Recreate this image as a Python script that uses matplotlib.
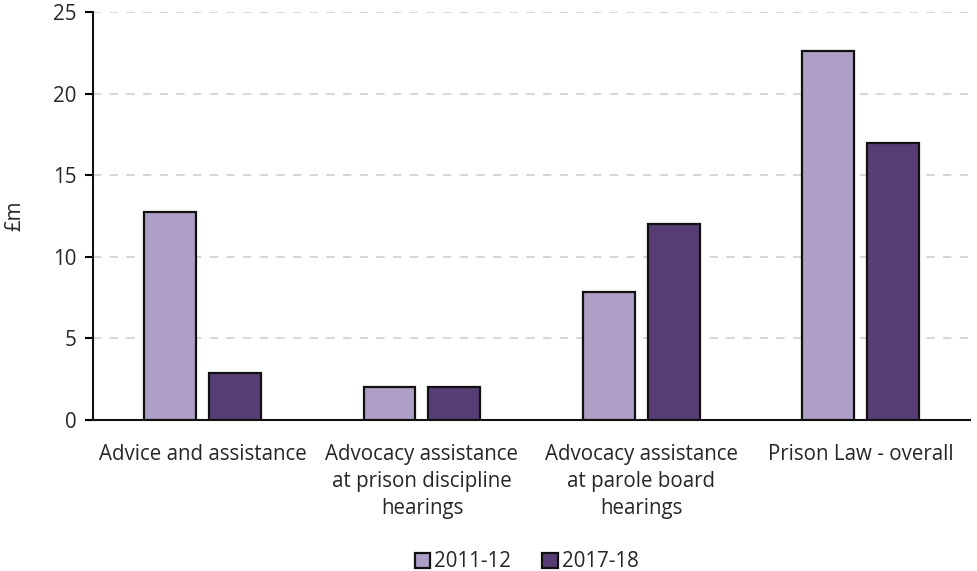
import matplotlib
matplotlib.use("Agg")
import matplotlib.pyplot as plt
import numpy as np

categories = [
    "Advice and assistance",
    "Advocacy assistance\nat prison discipline\nhearings",
    "Advocacy assistance\nat parole board\nhearings",
    "Prison Law - overall",
]
series_names = ["2011-12", "2017-18"]
values_2011 = [12.75, 2.0, 7.85, 22.6]
values_2017 = [2.9, 2.0, 12.0, 16.95]
y_ticks = [0, 5, 10, 15, 20, 25]

colors = ["#AE9FC6", "#563E75"]
text_color = "#262626"
fs = 14.8

plt.rcParams["font.family"] = ["Open Sans", "DejaVu Sans"]

fig = plt.figure(figsize=(9.77, 5.71), dpi=100)
ax = fig.add_axes([0.0952, 0.2644, 0.8978, 0.7146])

x = np.arange(len(categories))
w = 0.237
off = 0.148
ax.bar(x - off, values_2011, width=w, color=colors[0], edgecolor="#111111",
       linewidth=1.6, label=series_names[0], zorder=3)
ax.bar(x + off, values_2017, width=w, color=colors[1], edgecolor="#111111",
       linewidth=1.6, label=series_names[1], zorder=3)

ax.set_xlim(-0.5, 3.5)
ax.set_ylim(0, 25)
ax.set_yticks(y_ticks)
ax.yaxis.grid(True, linestyle=(0, (5, 5)), color="#D0D0D0", linewidth=1.2, zorder=0)
ax.set_axisbelow(True)

for s in ["top", "right"]:
    ax.spines[s].set_visible(False)
for s in ["left", "bottom"]:
    ax.spines[s].set_linewidth(1.5)
    ax.spines[s].set_color("#111111")

ax.set_xticks(x)
ax.set_xticklabels(categories, fontsize=fs, color=text_color, linespacing=1.4)
ax.tick_params(axis="x", length=0, pad=17)
ax.tick_params(axis="y", labelsize=fs, labelcolor=text_color, length=6, width=1.5,
               direction="out", pad=6)
ax.set_ylabel("£m", fontsize=fs, color=text_color, labelpad=20)

leg = fig.legend(loc="lower center", bbox_to_anchor=(0.539, -0.035), ncol=2,
                 frameon=False, fontsize=fs, handlelength=0.75, handleheight=0.75,
                 handletextpad=0.2, columnspacing=1.5)
for t in leg.get_texts():
    t.set_color(text_color)
for h in leg.legend_handles:
    h.set_linewidth(1.6)

fig.savefig("out.png", dpi=100)
